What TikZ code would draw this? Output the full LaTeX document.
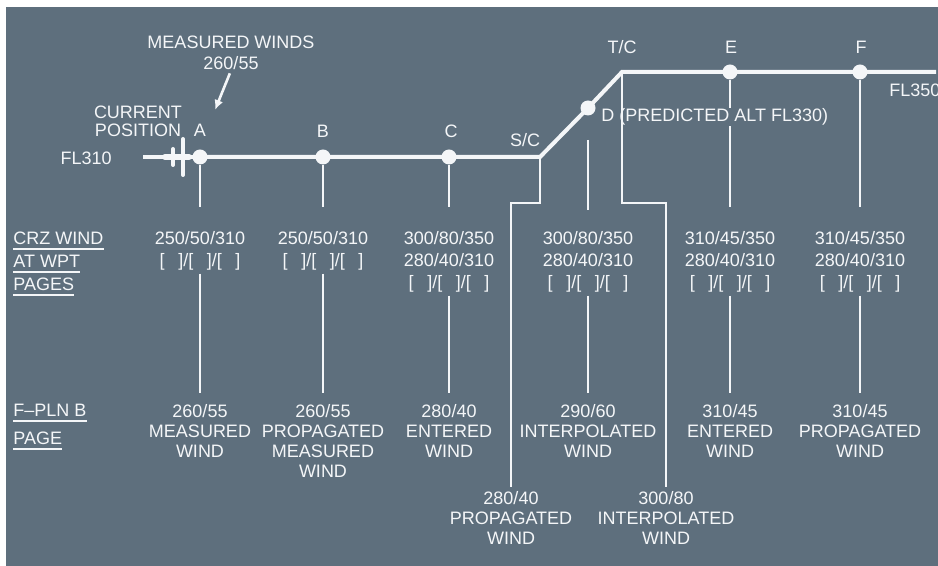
\documentclass[tikz,border=0pt]{standalone}
\usepackage{fontspec}
\setmainfont{Liberation Sans}
\usetikzlibrary{arrows.meta,calc}
\definecolor{panel}{HTML}{5E6F7D}
\definecolor{ink}{HTML}{F4F6F8}
\newcommand{\wptslots}{[\hspace{.75em}]/[\hspace{.75em}]/[\hspace{.75em}]}

\begin{document}
\begin{tikzpicture}[
  x=0.5pt, y=-0.5pt,
  font=\fontsize{9}{10}\selectfont,
  every node/.style={text=ink, inner sep=0pt},
  txt/.style={align=center, anchor=north},
  crz/.style={txt, font=\fontsize{9}{11}\selectfont},
  side/.style={anchor=west},
  wpt/.style={circle, fill=ink, minimum size=7.5pt},
  route/.style={draw=ink, line width=2pt},
  lead/.style={draw=ink, line width=1.3pt},
  uline/.style={draw=ink, line width=1pt},
  arr/.style={draw=ink, line width=1.3pt, -{Latex[length=5pt,width=4.5pt]}}
]
\useasboundingbox (0,0) rectangle (938,566);
\fill[white] (0,0) rectangle (938,566);
\fill[panel] (6,7) rectangle (938,566);

% waypoints on the flight path
\node[wpt] (wA) at (200,157) {};
\node[wpt] (wB) at (323,157) {};
\node[wpt] (wC) at (449,157) {};
\node[wpt] (wD) at (588,108) {};
\node[wpt] (wE) at (730,72) {};
\node[wpt] (wF) at (860,72) {};
\coordinate (pstart) at (143,157);
\coordinate (sc) at (540,157);
\coordinate (tc) at (622,72);
\coordinate (pend) at (936,72);
\coordinate (scjog) at (511,203);
\coordinate (tcjog) at (666,203);
\coordinate (mwtip) at (215,110);

\draw[route] (pstart) -- (wA.center);
\draw[route, line join=miter] (wA.center) -- (wB.center) -- (wC.center) -- (sc) -- (wD.center) -- (tc) -- (wE.center) -- (wF.center) -- (pend);

% current position symbol
\draw[ink, line width=3pt, line cap=round] (165,157) -- (189,157);
\draw[ink, line width=2pt, line cap=round] (173,149) -- (173,165);
\draw[ink, line width=2pt, line cap=round] (183,139) -- (183,175);

% labels on the path
\node (lA) at (200,130) {A};
\node (lB) at (323,131) {B};
\node (lC) at (451,131) {C};
\node (lSC) at (525,140) {S/C};
\node (lTC) at (622,47) {T/C};
\node (lE) at (731,47) {E};
\node (lF) at (861,47) {F};
\node[anchor=east] (fl310) at (112,158) {FL310};
\node[anchor=west] (fl350) at (889,90) {FL350};
\node[align=center] (curpos) at (138,121) {CURRENT\\[-1pt]POSITION};
\node[txt] (mw) at (231,36) {MEASURED WINDS\\[.5pt]260/55};
\draw[arr, shorten <=1.5pt] (mw.south) -- (mwtip);

% CRZ WIND AT WPT pages
\node[crz] (crzA) at (200,231) {250/50/310\\\wptslots};
\node[crz] (crzB) at (323,231) {250/50/310\\\wptslots};
\node[crz] (crzC) at (449,231) {300/80/350\\280/40/310\\\wptslots};
\node[crz] (crzD) at (588,231) {300/80/350\\280/40/310\\\wptslots};
\node[crz] (crzE) at (730,231) {310/45/350\\280/40/310\\\wptslots};
\node[crz] (crzF) at (860,231) {310/45/350\\280/40/310\\\wptslots};

% F-PLN B page
\node[txt] (fplA) at (200,404) {260/55\\MEASURED\\WIND};
\node[txt] (fplB) at (323,404) {260/55\\PROPAGATED\\MEASURED\\WIND};
\node[txt] (fplC) at (449,404) {280/40\\ENTERED\\WIND};
\node[txt] (fplD) at (588,404) {290/60\\INTERPOLATED\\WIND};
\node[txt] (fplE) at (730,404) {310/45\\ENTERED\\WIND};
\node[txt] (fplF) at (860,404) {310/45\\PROPAGATED\\WIND};
\node[txt] (fplSC) at (511,491) {280/40\\PROPAGATED\\WIND};
\node[txt] (fplTC) at (666,491) {300/80\\INTERPOLATED\\WIND};

% row headings
\node[side] (hCrz) at (13,238) {CRZ WIND};
\node[side] (hWpt) at (13,261) {AT WPT};
\node[side] (hPgs) at (13,284) {PAGES};
\node[side] (hFpl) at (13,410) {F--PLN B};
\node[side] (hPg) at (13,438) {PAGE};
\foreach \n in {hCrz,hWpt,hPgs,hFpl,hPg}
  \draw[uline] ([yshift=-2pt]\n.south west) -- ([yshift=-2pt]\n.south east);

% leaders
\foreach \c in {A,B,C,E,F}
  \draw[lead, shorten >=12pt] (w\c) -- (crz\c.north);
\draw[lead, shorten <=12pt, shorten >=10.5pt] (wD) -- (crzD.north);
\foreach \c in {A,B,C,D,E,F}
  \draw[lead, shorten <=1.5pt, shorten >=5.5pt] (crz\c.south) -- (fpl\c.north);
\draw[lead, shorten >=2pt] (sc) |- (scjog) -- (fplSC.north);

\node[anchor=west, fill=panel, inner xsep=1pt, inner ysep=.5pt] (lD) at (599,117) {D (PREDICTED ALT FL330)};
\draw[lead, shorten >=2pt] (tc) |- (tcjog) -- (fplTC.north);
\end{tikzpicture}
\end{document}
